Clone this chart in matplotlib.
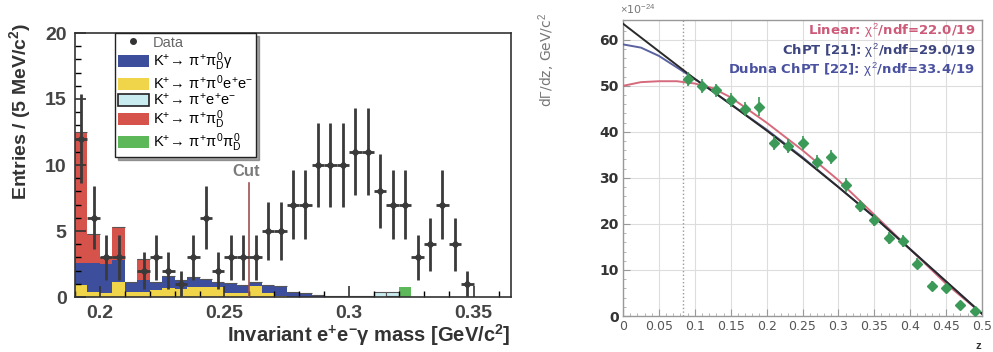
import numpy as np
import matplotlib.pyplot as plt
from matplotlib.patches import Patch
from matplotlib.lines import Line2D

# ---- left panel: invariant e+e-gamma mass ----
bin_lo = 0.19
bin_w = 0.005
data_counts = [12, 6, 3, 3, 0, 2, 3, 2, 1, 3, 6, 2, 3, 3, 3, 5,
               5, 7, 7, 10, 10, 10, 11, 11, 8, 7, 7, 3, 4, 7, 4, 1]
data_err = [3.4, 2.4, 1.7, 1.7, 0, 1.4, 1.7, 1.4, 1.0, 1.7, 2.4, 1.4, 1.7, 1.7, 1.7, 2.2,
            2.2, 2.6, 2.6, 3.2, 3.2, 3.2, 3.3, 3.3, 2.8, 2.6, 2.6, 1.7, 2.0, 2.6, 2.0, 1.0]
mc_ppee = [0.9, 0.4, 0.3, 1.1, 0.4, 0.4, 0.5, 0.7, 0.6, 0.75, 0.75, 0.75, 0.3, 0.3, 0.8, 0.3,
           0.1, 0, 0, 0, 0, 0, 0, 0, 0, 0, 0, 0, 0, 0, 0, 0]
mc_ppg = [1.7, 2.2, 2.2, 1.7, 0.75, 0.9, 0.6, 0.9, 0.7, 0.75, 0.65, 0.4, 0.75, 0.6, 0.3, 0.6,
          0.7, 0.4, 0.3, 0.15, 0.1, 0.1, 0.1, 0.05, 0, 0.1, 0, 0, 0, 0, 0, 0]
mc_pp = [9.9, 2.2, 0.5, 2.5, 0, 1.6, 0, 0, 0, 0, 0, 0, 0, 0, 0, 0,
         0, 0, 0, 0, 0, 0, 0, 0, 0, 0, 0, 0, 0, 0, 0, 0]
mc_pee = [0, 0, 0, 0, 0, 0, 0, 0, 0, 0, 0, 0, 0, 0, 0, 0,
          0, 0, 0, 0, 0, 0, 0, 0, 0.4, 0.3, 0, 0, 0, 0, 0, 0]
mc_ppp = [0, 0, 0, 0, 0, 0, 0, 0, 0, 0, 0, 0, 0, 0, 0, 0,
          0, 0, 0, 0, 0, 0, 0, 0, 0, 0, 0.75, 0, 0, 0, 0, 0]
cut_pos = 0.26
cut_top = 8.6

# ---- right panel: dGamma/dz ----
z_pts = [0.09, 0.11, 0.13, 0.15, 0.17, 0.19, 0.21, 0.23, 0.25, 0.27, 0.29,
         0.31, 0.33, 0.35, 0.37, 0.39, 0.41, 0.43, 0.45, 0.47, 0.49]
dgdz = [51.5, 50.0, 49.0, 47.0, 45.0, 45.5, 37.5, 37.0, 37.5, 33.5, 34.6,
        28.5, 23.8, 20.9, 16.9, 16.2, 11.4, 6.5, 6.0, 2.4, 1.0]
dgdz_err = [1.5, 1.5, 1.5, 1.5, 1.5, 2.0, 1.5, 1.5, 1.5, 1.5, 1.5,
            1.5, 1.3, 1.3, 1.3, 1.3, 1.2, 1.0, 1.0, 0.8, 0.6]
z_fit = [0.0, 0.025, 0.05, 0.075, 0.1, 0.125, 0.15, 0.2, 0.25, 0.3, 0.35, 0.4, 0.45, 0.5]
fit_linear = [50.0, 50.8, 51.0, 51.0, 50.5, 49.5, 47.5, 42.0, 36.0, 29.5, 22.0, 14.5, 7.0, 0.5]
fit_chpt = [59.0, 58.3, 56.5, 54.0, 51.5, 48.8, 46.0, 40.5, 34.5, 28.0, 21.5, 14.5, 7.5, 0.5]
fit_dubna = [63.5, 60.5, 57.5, 54.5, 51.5, 48.8, 46.0, 40.3, 34.3, 28.0, 21.5, 14.5, 7.5, 0.5]
fit_names = ['Linear: $\\chi^2$/ndf=22.0/19', 'ChPT [21]: $\\chi^2$/ndf=29.0/19',
             'Dubna ChPT [22]: $\\chi^2$/ndf=33.4/19']

plt.rcParams['font.family'] = ['Liberation Sans', 'DejaVu Sans']
plt.rcParams['mathtext.fontset'] = 'custom'
plt.rcParams['mathtext.rm'] = 'Liberation Sans'
plt.rcParams['mathtext.it'] = 'Liberation Sans'
plt.rcParams['mathtext.bf'] = 'Liberation Sans:bold'

fig = plt.figure(figsize=(9.93, 3.52), dpi=100)

# ================= left =================
ax = fig.add_axes([75/993, 1-297/352, 436/993, 264/352])
n = len(data_counts)
edges = bin_lo + bin_w*np.arange(n)
centers = edges + bin_w/2

c_yel = '#f0d44a'
c_blu = '#3d4f9c'
c_red = '#d6534b'
c_cya = '#c8ecf0'
c_grn = '#5db85a'

bottom = np.zeros(n)
for vals, col, ec in [(mc_ppee, c_yel, 'none'), (mc_ppg, c_blu, 'none'),
                      (mc_pp, c_red, 'none'), (mc_pee, c_cya, '#555555'),
                      (mc_ppp, c_grn, 'none')]:
    v = np.array(vals)
    ax.bar(edges, v, width=bin_w, bottom=bottom, align='edge', color=col,
           edgecolor=ec, linewidth=0.8 if ec != 'none' else 0)
    bottom = bottom + v

cnt = np.array(data_counts, dtype=float)
err = np.array(data_err)
m = cnt > 0
ax.errorbar(centers[m], cnt[m], yerr=err[m], xerr=bin_w/2, fmt='D', ms=3.5,
            color='#3a3a3a', ecolor='#3a3a3a', elinewidth=2, capsize=0, zorder=5)

ax.plot([cut_pos, cut_pos], [0, cut_top], color='#a0524e', lw=1.2, zorder=4)
ax.text(cut_pos - 0.0012, cut_top + 0.35, 'Cut', ha='center', va='bottom',
        fontsize=12, fontweight='bold', color='#7a7a7a')

ax.set_xlim(0.19, 0.365)
ax.set_ylim(0, 20)
ax.set_xticks([0.2, 0.25, 0.3, 0.35])
ax.set_xticklabels(['0.2', '0.25', '0.3', '0.35'])
ax.set_xticks(np.arange(0.19, 0.366, 0.01), minor=True)
ax.set_yticks([0, 5, 10, 15, 20])
ax.set_yticks(np.arange(0, 20.1, 1), minor=True)
ax.tick_params(direction='in', which='major', length=8, width=1.2, labelsize=14,
               colors='#333333', pad=6)
ax.tick_params(direction='in', which='minor', length=4, width=1)
for lab in ax.get_xticklabels() + ax.get_yticklabels():
    lab.set_fontweight('bold')
    lab.set_color('#444444')
for s in ax.spines.values():
    s.set_linewidth(1.2)
    s.set_color('#333333')
ax.set_ylabel('Entries / (5 MeV/c$^\\mathbf{2}$)', fontsize=14, fontweight='bold',
              color='#333333', loc='top')
ax.yaxis.set_label_coords(-0.097, 1.04)
ax.set_xlabel('Invariant e$^{\\mathbf{+}}$e$^{\\mathbf{-}}\\mathbf{\\gamma}$ mass [GeV/c$^\\mathbf{2}$]',
              fontsize=14.5, fontweight='bold', color='#333333', loc='right')
ax.xaxis.set_label_coords(1.0, -0.095)

handles = [
    Line2D([], [], marker='o', ms=4, ls='none', color='#333333'),
    Patch(facecolor=c_blu, edgecolor='none'),
    Patch(facecolor=c_yel, edgecolor='none'),
    Patch(facecolor=c_cya, edgecolor='#222222', linewidth=1.2),
    Patch(facecolor=c_red, edgecolor='none'),
    Patch(facecolor=c_grn, edgecolor='none'),
]
labels = [
    'Data',
    'K$^{+}\\!\\rightarrow\\,\\pi^{+}\\pi^{0}_{D}\\gamma$',
    'K$^{+}\\!\\rightarrow\\,\\pi^{+}\\pi^{0}\\mathrm{e}^{+}\\mathrm{e}^{-}$',
    'K$^{+}\\!\\rightarrow\\,\\pi^{+}\\mathrm{e}^{+}\\mathrm{e}^{-}$',
    'K$^{+}\\!\\rightarrow\\,\\pi^{+}\\pi^{0}_{D}$',
    'K$^{+}\\!\\rightarrow\\,\\pi^{+}\\pi^{0}\\pi^{0}_{D}$',
]
leg = ax.legend(handles, labels, loc='upper left', bbox_to_anchor=(0.092, 1.0),
                fontsize=10.5, frameon=True, fancybox=False, shadow=True,
                handlelength=2.1, handleheight=0.9, labelspacing=0.02,
                borderpad=0.2, handletextpad=0.3, borderaxespad=0)
leg.get_frame().set_edgecolor('#222222')
leg.get_frame().set_linewidth(1.0)
leg.texts[0].set_color('#666666')

# ================= right =================
ax2 = fig.add_axes([623/993, 1-316/352, 359/993, 296/352])
ax2.set_xlim(0, 0.5)
ax2.set_ylim(0, 64.3)
ax2.grid(True, color='#dddddd', lw=0.8)
ax2.set_axisbelow(True)
ax2.axvline(0.083, color='#999999', lw=1, ls=':')

ax2.plot(z_fit, fit_linear, color='#d66a7c', lw=1.4, zorder=3)
ax2.plot(z_fit, fit_chpt, color='#5a62a0', lw=1.4, zorder=3)
ax2.plot(z_fit, fit_dubna, color='#2a2a2a', lw=1.4, zorder=3)
ax2.errorbar(z_pts, dgdz, yerr=dgdz_err, fmt='D', ms=5.5, color='#3c9a58',
             ecolor='#3c9a58', elinewidth=1.2, capsize=0, zorder=4)

ax2.set_xticks(np.arange(0, 0.501, 0.05))
ax2.set_xticklabels(['0', '0.05', '0.1', '0.15', '0.2', '0.25', '0.3',
                     '0.35', '0.4', '0.45', '0.5'])
ax2.set_xticks(np.arange(0, 0.501, 0.01), minor=True)
ax2.set_yticks([0, 10, 20, 30, 40, 50, 60])
ax2.set_yticks(np.arange(0, 64, 2), minor=True)
ax2.tick_params(direction='in', which='major', length=5, width=0.8, colors='#999999',
                labelsize=9, pad=3)
ax2.tick_params(direction='in', which='minor', length=2.5, width=0.6, colors='#aaaaaa')
for lab in ax2.get_xticklabels():
    lab.set_color('#555555')
    lab.set_fontfamily('DejaVu Sans')
for lab in ax2.get_yticklabels():
    lab.set_color('#333333')
    lab.set_fontweight('bold')
    lab.set_fontsize(10)
    lab.set_fontfamily('DejaVu Sans')
for s in ax2.spines.values():
    s.set_color('#999999')
    s.set_linewidth(1)

fig.text(547/993, 1-13/352, 'd$\\Gamma$/dz, GeV/c$^2$', rotation=90, ha='center',
         va='top', fontsize=10, color='#777777', family='DejaVu Sans')
fig.text(620/993, 1-9/352, '$\\times$10$^{-24}$', ha='left', va='center',
         fontsize=8, color='#777777', family='DejaVu Sans')
fig.text(978/993, 1-346/352, 'z', ha='center', va='center', fontsize=8,
         fontweight='bold', color='#333333')

fit_cols = ['#cc5a78', '#3e4680', '#4a52a0']
for i, (txt, col) in enumerate(zip(fit_names, fit_cols)):
    fig.text(975/993, 1-(31 + 19.5*i)/352, txt, ha='right', va='center',
             fontsize=9.5, fontweight='bold', color=col, family='DejaVu Sans')

fig.savefig('out.png', dpi=100)
